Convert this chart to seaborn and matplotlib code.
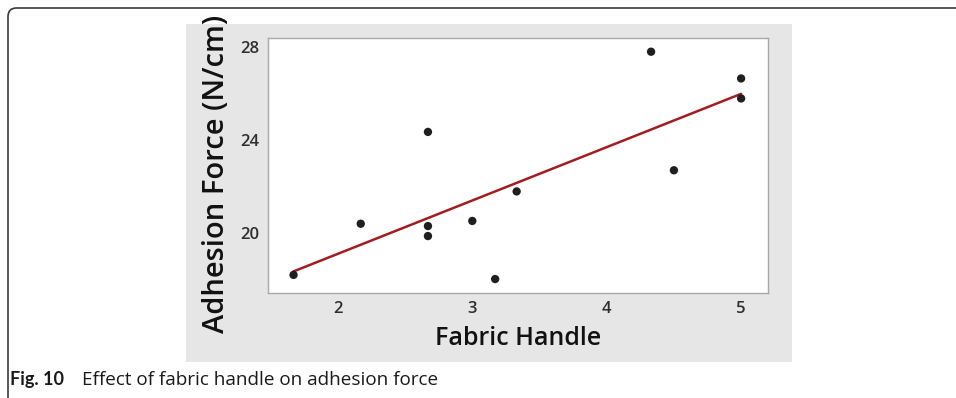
import matplotlib
matplotlib.use('Agg')
import matplotlib.pyplot as plt
import seaborn as sns
import pandas as pd
from matplotlib.patches import Rectangle, FancyBboxPatch

# values
fabric_handle = [1.67, 2.17, 2.67, 2.67, 2.67, 3.0, 3.17, 3.33, 4.33, 4.5, 5.0, 5.0]
adhesion_force = [18.2, 20.4, 20.3, 19.87, 24.35, 20.52, 18.02, 21.79, 27.8, 22.7, 26.65, 25.79]
x_ticks = [2, 3, 4, 5]
y_ticks = [20, 24, 28]

df = pd.DataFrame({'Fabric Handle': fabric_handle, 'Adhesion Force (N/cm)': adhesion_force})

sns.set_style('white')
plt.rcParams['font.family'] = ['Open Sans', 'DejaVu Sans']

W, H = 956, 398
fig = plt.figure(figsize=(W / 100, H / 100), dpi=100)

# outer frame of the figure box (rounded top-left corner)
frame = FancyBboxPatch((8 / W, -0.2), 1.2, 1.2 - 8 / H,
                       boxstyle='round,pad=0,rounding_size=0.009',
                       transform=fig.transFigure, fill=False,
                       edgecolor='#3a3a3a', linewidth=1.2, mutation_aspect=W / H)
fig.patches.append(frame)

# grey panel behind the plot
panel = Rectangle((186 / W, 1 - 362 / H), (792 - 186) / W, (362 - 24) / H,
                  transform=fig.transFigure, facecolor='#e6e6e6', edgecolor='none', zorder=0)
fig.patches.append(panel)

ax = fig.add_axes([268 / W, 1 - 293 / H, 500 / W, 255 / H])
ax.set_zorder(5)
ax.set_facecolor('white')

sns.regplot(data=df, x='Fabric Handle', y='Adhesion Force (N/cm)', ax=ax, ci=None,
            scatter_kws={'s': 36, 'color': '#1f1f1f', 'alpha': 1, 'edgecolors': 'none', 'zorder': 3},
            line_kws={'color': '#a11d21', 'linewidth': 1.8, 'zorder': 2})

ax.set_xlim(1.48, 5.2)
ax.set_ylim(17.42, 28.39)
ax.set_xticks(x_ticks)
ax.set_yticks(y_ticks)
ax.tick_params(axis='both', direction='out', length=3, width=0.8, color='#9a9a9a',
               labelsize=12, labelcolor='#2e2e2e', pad=3)
for lbl in ax.get_xticklabels() + ax.get_yticklabels():
    lbl.set_fontweight('semibold')
for sp in ax.spines.values():
    sp.set_color('#a8a8a8')
    sp.set_linewidth(1.0)

ax.set_xlabel('Fabric Handle', fontsize=18, fontweight='semibold', color='#111111', labelpad=6)
ax.set_ylabel('Adhesion Force (N/cm)', fontsize=21, fontweight='semibold', color='#111111')
ax.yaxis.set_label_coords(-0.074, 0.467)

fig.text(10 / W, 1 - 380 / H, 'Fig. 10', fontsize=13, fontweight='bold',
         family=['Lato', 'DejaVu Sans'], color='#1a1a1a', va='center')
fig.text(82 / W, 1 - 380 / H, 'Effect of fabric handle on adhesion force', fontsize=13.6,
         color='#1a1a1a', va='center')

fig.savefig('out.png', dpi=100)
